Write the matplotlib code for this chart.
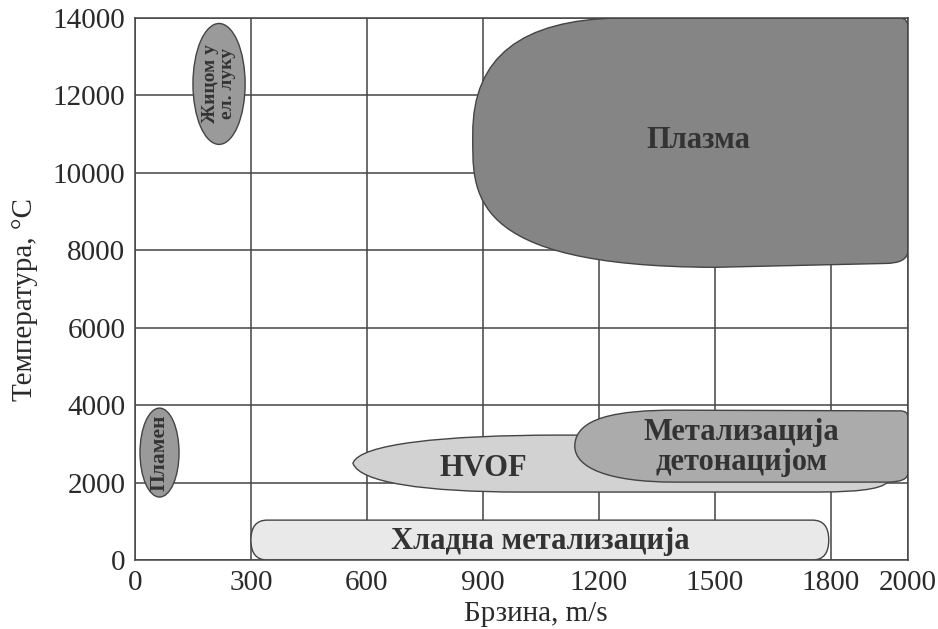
import matplotlib
matplotlib.use("Agg")
from matplotlib import pyplot as plt
from matplotlib.path import Path
from matplotlib.patches import PathPatch, Ellipse, FancyBboxPatch

plt.rcParams['font.family'] = ['Liberation Serif', 'DejaVu Serif']

# opsezi postupaka: brzina (m/s) i temperatura (°C)
plazma_brzina = [874, 2000]
plazma_temp = [7560, 14000]
detonacija_brzina = [1138, 2000]
detonacija_temp = [2012, 3870]
hvof_brzina = [564, 1950]
hvof_temp = [1755, 3226]
hladna_brzina = [300, 1795]
hladna_temp = [0, 1030]
plamen_brzina = [13, 114]
plamen_temp = [1626, 3923]
luk_brzina = [150, 285]
luk_temp = [10735, 13858]

x_ticks = [0, 300, 600, 900, 1200, 1500, 1800, 2000]
y_ticks = [0, 2000, 4000, 6000, 8000, 10000, 12000, 14000]

EDGE = '#444444'


def oblik(brzina, temp, koraci):
    # koraci su u udjelima opsega (0..1), pretvaraju se u podatke
    x0, x1 = brzina
    y0, y1 = temp
    verts, codes = [], []
    for kod, tacke in koraci:
        for fx, fy in tacke:
            verts.append((x0 + fx * (x1 - x0), y0 + fy * (y1 - y0)))
            codes.append(kod)
    verts.append(verts[0])
    codes.append(Path.CLOSEPOLY)
    codes[0] = Path.MOVETO
    return Path(verts, codes)


L, Q, C = Path.LINETO, Path.CURVE3, Path.CURVE4

plazma_oblik = [
    (L, [(0.334, 1)]),
    (L, [(0.982, 1)]),
    (Q, [(1, 1), (1, 0.961)]),
    (L, [(1, 0.068)]),
    (Q, [(1, 0.0155), (0.947, 0.0155)]),
    (L, [(0.556, 0)]),
    (C, [(-0.021, 0.003), (0, 0.302), (0, 0.537)]),
    (C, [(0, 0.845), (0.112, 0.992), (0.334, 1)]),
]
hvof_oblik = [
    (L, [(0, 0.506)]),
    (C, [(0.012, 0.846), (0.17, 1), (0.387, 1)]),
    (L, [(1, 1)]),
    (L, [(1, 0.23)]),
    (Q, [(1, 0), (0.87, 0)]),
    (L, [(0.315, 0)]),
    (C, [(0.135, 0), (0.012, 0.166), (0, 0.506)]),
]
detonacija_oblik = [
    (L, [(0, 0.5)]),
    (C, [(0, 0.9), (0.13, 1), (0.3, 1)]),
    (L, [(0.977, 0.99)]),
    (Q, [(1, 0.99), (1, 0.9)]),
    (L, [(1, 0.13)]),
    (Q, [(1, 0), (0.94, 0)]),
    (L, [(0.3, 0)]),
    (C, [(0.1, 0), (0, 0.2), (0, 0.5)]),
]

fig = plt.figure(figsize=(9.38, 6.29), dpi=100)
ax = fig.add_axes([0.1439, 0.1097, 0.8241, 0.8617])
ax.set_xlim(0, 2000)
ax.set_ylim(0, 14000)
ax.set_xticks(x_ticks)
ax.set_yticks(y_ticks)
ax.set_axisbelow(True)
ax.grid(True, color='#444444', linewidth=1.1)
for s in ax.spines.values():
    s.set_color('#444444')
    s.set_linewidth(1.1)
ax.tick_params(length=0, labelsize=21, labelcolor='#2a2a2a', pad=7)

ax.add_patch(PathPatch(oblik(plazma_brzina, plazma_temp, plazma_oblik),
                       facecolor='#858585', edgecolor=EDGE, lw=1.0))
ax.add_patch(PathPatch(oblik(hvof_brzina, hvof_temp, hvof_oblik),
                       facecolor='#d2d2d2', edgecolor=EDGE, lw=1.0))
ax.add_patch(PathPatch(oblik(detonacija_brzina, detonacija_temp, detonacija_oblik),
                       facecolor='#ababab', edgecolor=EDGE, lw=1.0))
ax.add_patch(FancyBboxPatch((hladna_brzina[0], hladna_temp[0]),
                            hladna_brzina[1] - hladna_brzina[0],
                            hladna_temp[1] - hladna_temp[0],
                            boxstyle='round,pad=0,rounding_size=42',
                            mutation_aspect=12.2,
                            facecolor='#e9e9e9', edgecolor=EDGE, lw=1.0))
for br, tp in [(plamen_brzina, plamen_temp), (luk_brzina, luk_temp)]:
    ax.add_patch(Ellipse(((br[0] + br[1]) / 2, (tp[0] + tp[1]) / 2),
                         br[1] - br[0], tp[1] - tp[0],
                         facecolor='#9a9a9a', edgecolor=EDGE, lw=1.0))

tekst = dict(fontweight='bold', color='#333333', ha='center', va='center')
ax.text(1457, 10840, 'Плазма', fontsize=22, **tekst)
ax.text(1570, 2916, 'Метализација\nдетонацијом', fontsize=22, linespacing=1.05, **tekst)
ax.text(900, 2374, 'HVOF', fontsize=22, **tekst)
ax.text(1048, 470, 'Хладна метализација', fontsize=22, **tekst)
ax.text(63, 2774, 'Пламен', fontsize=15.5, rotation=90, **tekst)
ax.text(217, 12297, 'Жицом у\nел. луку', fontsize=14, rotation=90, linespacing=0.95, **tekst)

ax.set_xlabel('Брзина, m/s', fontsize=21, color='#2a2a2a', labelpad=4)
ax.xaxis.set_label_coords(0.519, -0.075)
ax.set_ylabel('Температура, °C', fontsize=21, color='#2a2a2a')
ax.yaxis.set_label_coords(-0.1255, 0.48)

fig.savefig('out.png', dpi=100)
